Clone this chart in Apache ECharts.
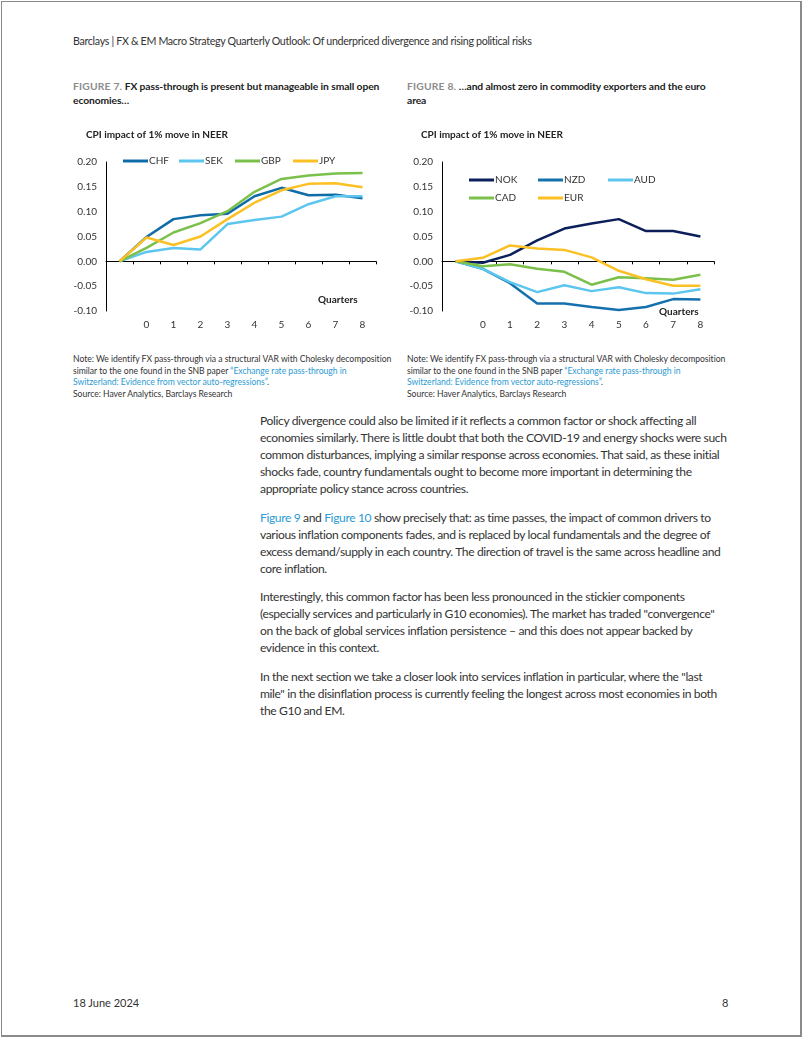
<!DOCTYPE html>
<html>
<head>
<meta charset="utf-8">
<script src="https://cdn.jsdelivr.net/npm/echarts@6/dist/echarts.min.js"></script>
<style>
  html, body { margin:0; padding:0; background:#fff; }
  body { width:802px; height:1037px; position:relative; overflow:hidden; font-family: Lato, "Open Sans", sans-serif; color:#333; }
  #frame { position:absolute; left:1px; top:1px; width:798px; height:1033px; border:1px solid #8a8a8a; border-right-width:2px; border-bottom-width:2px; }
  .t { position:absolute; white-space:nowrap; }
  #header { left:73px; top:34px; font-size:10.7px; letter-spacing:-0.33px; }
  .cap { font-size:10.3px; line-height:14px; font-weight:bold; color:#222; letter-spacing:-0.1px; }
  .cap .fig { color:#8c8c8c; font-weight:bold; letter-spacing:0.2px; }
  .note { font-size:8.6px; line-height:11.7px; color:#333; letter-spacing:-0.02px; }
  .link { color:#2b9bd3; }
  .body { left:260px; font-size:12.1px; line-height:17px; color:#333; letter-spacing:-0.38px; }
  #chart { position:absolute; left:0; top:0; width:802px; height:1037px; }
</style>
</head>
<body>
<div id="frame"></div>
<div class="t" id="header">Barclays | FX &amp; EM Macro Strategy Quarterly Outlook: Of underpriced divergence and rising political risks</div>

<div class="t cap" style="left:73px; top:79px;"><span class="fig">FIGURE 7.</span> FX pass-through is present but manageable in small open<br>economies…</div>
<div class="t cap" style="left:407px; top:79px;"><span class="fig">FIGURE 8.</span> …and almost zero in commodity exporters and the euro<br>area</div>

<div class="t note" style="left:73px; top:354px;">Note: We identify FX pass-through via a structural VAR with Cholesky decomposition<br>similar to the one found in the SNB paper <span class="link">“Exchange rate pass-through in</span><br><span class="link">Switzerland: Evidence from vector auto-regressions”</span>.<br>Source: Haver Analytics, Barclays Research</div>
<div class="t note" style="left:407px; top:354px;">Note: We identify FX pass-through via a structural VAR with Cholesky decomposition<br>similar to the one found in the SNB paper <span class="link">“Exchange rate pass-through in</span><br><span class="link">Switzerland: Evidence from vector auto-regressions”</span>.<br>Source: Haver Analytics, Barclays Research</div>

<div class="t body" style="top:412px;">Policy divergence could also be limited if it reflects a common factor or shock affecting all<br>economies similarly. There is little doubt that both the COVID-19 and energy shocks were such<br>common disturbances, implying a similar response across economies. That said, as these initial<br>shocks fade, country fundamentals ought to become more important in determining the<br>appropriate policy stance across countries.</div>
<div class="t body" style="top:509px;"><span class="link">Figure 9</span> and <span class="link">Figure 10</span> show precisely that: as time passes, the impact of common drivers to<br>various inflation components fades, and is replaced by local fundamentals and the degree of<br>excess demand/supply in each country. The direction of travel is the same across headline and<br>core inflation.</div>
<div class="t body" style="top:588px;">Interestingly, this common factor has been less pronounced in the stickier components<br>(especially services and particularly in G10 economies). The market has traded "convergence"<br>on the back of global services inflation persistence – and this does not appear backed by<br>evidence in this context.</div>
<div class="t body" style="top:668px;">In the next section we take a closer look into services inflation in particular, where the "last<br>mile" in the disinflation process is currently feeling the longest across most economies in both<br>the G10 and EM.</div>

<div class="t" style="left:73px; top:996px; font-size:11px;">18 June 2024</div>
<div class="t" style="left:722px; top:996px; font-size:11px;">8</div>

<div id="chart"></div>
<script>
// ---- data ----
const quarters = ['', '0', '1', '2', '3', '4', '5', '6', '7', '8'];
const yTicks = { min: -0.10, max: 0.20, step: 0.05 };

// Figure 7
const chf = [0, 0.049, 0.085, 0.093, 0.096, 0.131, 0.148, 0.133, 0.134, 0.127];
const sek = [0, 0.019, 0.027, 0.024, 0.075, 0.083, 0.090, 0.115, 0.131, 0.131];
const gbp = [0, 0.027, 0.058, 0.077, 0.101, 0.140, 0.166, 0.173, 0.177, 0.178];
const jpy = [0, 0.048, 0.033, 0.050, 0.085, 0.118, 0.143, 0.156, 0.157, 0.149];

// Figure 8
const nok = [0, -0.003, 0.013, 0.042, 0.066, 0.076, 0.085, 0.061, 0.061, 0.050];
const nzd = [0, -0.015, -0.044, -0.085, -0.085, -0.092, -0.098, -0.092, -0.076, -0.077];
const aud = [0, -0.015, -0.042, -0.062, -0.048, -0.060, -0.052, -0.064, -0.065, -0.056];
const cad = [0, -0.010, -0.006, -0.015, -0.021, -0.047, -0.032, -0.034, -0.037, -0.027];
const eur = [0, 0.007, 0.032, 0.026, 0.023, 0.008, -0.019, -0.036, -0.049, -0.049];

const colors = { CHF:'#106ca8', SEK:'#5cc6ef', GBP:'#7bc04a', JPY:'#fbc023',
                 NOK:'#0c1f5a', NZD:'#1570ae', AUD:'#5cc6ef', CAD:'#7bc04a', EUR:'#fbc023' };

const FONT = 'Lato, "Open Sans", sans-serif';
const chart = echarts.init(document.getElementById('chart'));

function xAxes(grid) {
  return [
    { gridIndex: grid, type:'category', data: quarters, boundaryGap:true,
      axisLine:{ onZero:true, lineStyle:{ color:'#000', width:1 } },
      axisTick:{ show:true, length:3, lineStyle:{ color:'#000' } },
      axisLabel:{ show:false }, splitLine:{ show:false } },
    { gridIndex: grid, type:'category', data: quarters, boundaryGap:true, position:'bottom',
      axisLine:{ show:false, onZero:false }, axisTick:{ show:false },
      axisLabel:{ show:true, fontSize:10, color:'#333', margin:9, fontFamily:FONT, interval:0 },
      splitLine:{ show:false } }
  ];
}
function yAxis(grid) {
  return { gridIndex: grid, type:'value', min: yTicks.min, max: yTicks.max, interval: yTicks.step,
    axisLine:{ show:true, lineStyle:{ color:'#000', width:1 } }, axisTick:{ show:false },
    splitLine:{ show:false },
    axisLabel:{ fontSize:10, color:'#333', margin:9, fontFamily:FONT, formatter: v => v.toFixed(2) } };
}
function line(name, data, xi, yi) {
  return { name, type:'line', data, xAxisIndex:xi, yAxisIndex:yi, symbol:'none', smooth:false,
    lineStyle:{ width:2.5, color: colors[name] }, itemStyle:{ color: colors[name] }, z: 3 };
}
function leg(name, left, cy) {
  return { data:[name], left, top: cy - 6, icon:'rect', itemWidth:25, itemHeight:3,
    padding:0, selectedMode:false,
    textStyle:{ fontSize:10, color:'#333', fontFamily:FONT, padding:[0,0,0,-4] } };
}

chart.setOption({
  animation:false,
  textStyle:{ fontFamily: FONT },
  grid:[ { left:106, top:162, width:270, height:149 }, { left:442, top:162, width:272, height:149 } ],
  xAxis:[ ...xAxes(0), ...xAxes(1) ],
  yAxis:[ yAxis(0), yAxis(1) ],
  title:[
    { text:'CPI impact of 1% move in NEER', left:86, top:130, padding:0,
      textStyle:{ fontSize:10, fontWeight:'bold', color:'#222', fontFamily:FONT } },
    { text:'CPI impact of 1% move in NEER', left:421, top:130, padding:0,
      textStyle:{ fontSize:10, fontWeight:'bold', color:'#222', fontFamily:FONT } }
  ],
  legend:[
    leg('CHF',123,162), leg('SEK',179,162), leg('GBP',235,162), leg('JPY',293,162),
    leg('NOK',469,181), leg('NZD',538,181), leg('AUD',608,181),
    leg('CAD',469,199), leg('EUR',538,199)
  ],
  graphic:[
    { type:'text', left:318, top:295, style:{ text:'Quarters', font:'bold 10px ' + FONT, fill:'#222' } },
    { type:'text', left:659, top:307, style:{ text:'Quarters', font:'bold 10px ' + FONT, fill:'#222' } }
  ],
  series:[
    line('CHF', chf, 0, 0), line('SEK', sek, 0, 0), line('GBP', gbp, 0, 0), line('JPY', jpy, 0, 0),
    line('NOK', nok, 2, 1), line('NZD', nzd, 2, 1), line('AUD', aud, 2, 1), line('CAD', cad, 2, 1), line('EUR', eur, 2, 1)
  ]
});
</script>
</body>
</html>
